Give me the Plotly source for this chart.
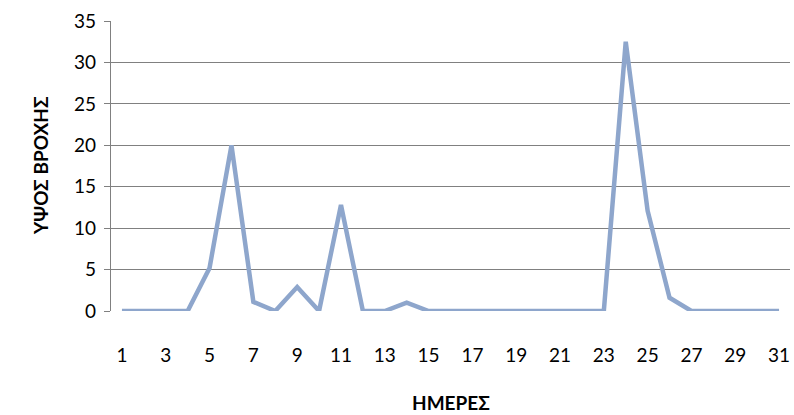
import plotly.graph_objects as go

days = list(range(1, 32))
rain = [0, 0, 0, 0, 5.2, 20, 1.1, 0, 2.9, 0, 12.8, 0, 0, 1, 0,
        0, 0, 0, 0, 0, 0, 0, 0, 32.5, 12.1, 1.6, 0, 0, 0, 0, 0]
x_ticks = list(range(1, 32, 2))
y_ticks = list(range(0, 36, 5))

FONT = "Lato, Open Sans, sans-serif"

fig = go.Figure()
fig.add_trace(go.Scatter(
    x=days, y=rain, mode="lines",
    line=dict(color="#8EA6CC", width=4.5),
    hoverinfo="x+y", showlegend=False,
))

fig.update_layout(
    width=794, height=415,
    margin=dict(l=111, r=4, t=21, b=104),
    paper_bgcolor="white", plot_bgcolor="white",
    font=dict(family=FONT, size=19, color="#000000"),
    xaxis=dict(
        range=[0.5, 31.5], tickvals=x_ticks, ticktext=[str(v) for v in x_ticks],
        showgrid=False, zeroline=False, showline=False, automargin=False,
        ticks="", ticklabelstandoff=31,
        tickfont=dict(family=FONT, size=19),
    ),
    yaxis=dict(
        range=[0, 35], tickvals=y_ticks, automargin=False,
        showgrid=True, gridcolor="#808080", gridwidth=1.4,
        zeroline=False, showline=True, linecolor="#808080", linewidth=1.4,
        ticks="outside", ticklen=6, tickcolor="#808080",
        ticklabelstandoff=4,
        tickfont=dict(family=FONT, size=19),
    ),
    annotations=[
        dict(text="<b>ΗΜΕΡΕΣ</b>", xref="paper", yref="paper", x=(451 - 111) / 679,
             y=-(402 - 311) / 290, xanchor="center", yanchor="middle",
             showarrow=False, font=dict(family=FONT, size=19)),
        dict(text="<b>ΥΨΟΣ ΒΡΟΧΗΣ</b>", xref="paper", yref="paper",
             x=-(111 - 40) / 679, y=(311 - 166) / 290, xanchor="center", yanchor="middle",
             textangle=-90, showarrow=False, font=dict(family=FONT, size=19)),
    ],
)

fig.write_html(
    "out.html",
    config={"displayModeBar": False},
    post_script="document.body.style.margin='0';document.body.style.padding='0';",
)
